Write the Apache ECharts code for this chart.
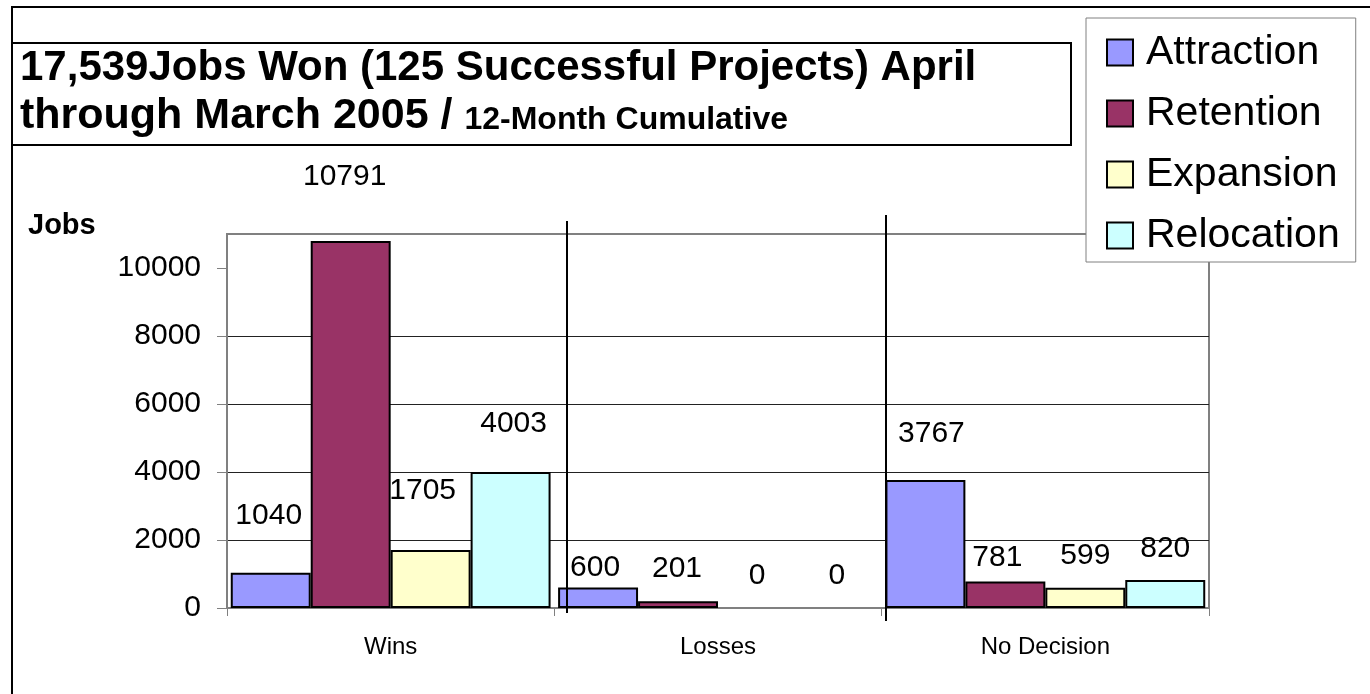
<!DOCTYPE html>
<html>
<head>
<meta charset="utf-8">
<script src="https://cdn.jsdelivr.net/npm/echarts@6/dist/echarts.min.js"></script>
<style>
html,body{margin:0;padding:0;background:#fff;}
#chart{width:1370px;height:694px;}
</style>
</head>
<body>
<div id="chart"></div>
<script>
// ---- data ----
const categories = ['Wins', 'Losses', 'No Decision'];
const seriesNames = ['Attraction', 'Retention', 'Expansion', 'Relocation'];
const attraction = [1040, 600, 3767];
const retention = [10791, 201, 781];
const expansion = [1705, 0, 599];
const relocation = [4003, 0, 820];
const yTicks = [0, 2000, 4000, 6000, 8000, 10000];
const titleLine1 = '17,539Jobs Won (125 Successful Projects) April';
const titleLine2 = 'through March 2005 / ';
const subTitle = '12-Month Cumulative';
const yAxisTitle = 'Jobs';

// ---- styles ----
const FONT = '"Liberation Sans", Arial, sans-serif';
const colors = ['#9999FF', '#993366', '#FFFFCC', '#CCFFFF'];
// per-label [dx, distance] nudges (style only)
const labelNudge = [
  [[-2, 42], [-3, 5], [6, 31]],
  [[-6, 49], [-1, 17], [-8, 9]],
  [[-8, 44], [-1, 17], [0, 17]],
  [[3, 33], [-1, 17], [0, 16]]
];
const values = [attraction, retention, expansion, relocation];

const series = seriesNames.map((name, s) => ({
  name: name,
  type: 'bar',
  barGap: '0%',
  barCategoryGap: '2.3%',
  itemStyle: { color: colors[s], borderColor: '#000', borderWidth: 2 },
  label: {
    show: true, position: 'top', color: '#000', fontSize: 30, fontFamily: FONT
  },
  data: values[s].map((v, i) => ({
    value: v,
    itemStyle: v === 0 ? { borderWidth: 0 } : undefined,
    label: { distance: labelNudge[s][i][1], offset: [labelNudge[s][i][0], 0] }
  }))
}));

const chart = echarts.init(document.getElementById('chart'), null, { renderer: 'canvas' });
chart.setOption({
  animation: false,
  backgroundColor: '#fff',
  textStyle: { fontFamily: FONT },
  title: {
    left: 20, top: 44, padding: 0,
    text: '{a|' + titleLine1 + '}\n{c|' + titleLine2 + '}{b|' + subTitle + '}',
    textStyle: {
      rich: {
        a: { fontSize: 42, fontWeight: 'bold', lineHeight: 48, color: '#000', fontFamily: FONT },
        c: { fontSize: 43, fontWeight: 'bold', lineHeight: 48, color: '#000', fontFamily: FONT },
        b: { fontSize: 32, fontWeight: 'bold', lineHeight: 48, color: '#000', fontFamily: FONT, padding: [8, 0, 0, 0] }
      }
    }
  },
  legend: {
    orient: 'vertical',
    left: 1086, top: 18,
    padding: [14, 16, 6, 20],
    itemGap: 20,
    itemWidth: 26, itemHeight: 26,
    icon: 'rect',
    borderColor: '#808080', borderWidth: 1,
    backgroundColor: '#fff',
    z: 10,
    textStyle: { fontSize: 41, lineHeight: 41, color: '#000', fontFamily: FONT, padding: [0, 0, 0, 8] },
    data: seriesNames
  },
  grid: {
    left: 227, top: 234, right: 161, bottom: 86,
    show: true, borderColor: '#808080', borderWidth: 2, backgroundColor: '#fff'
  },
  xAxis: {
    type: 'category',
    data: categories,
    axisLine: { show: true, lineStyle: { color: '#808080', width: 2 } },
    axisTick: { show: true, length: 8, interval: 0, lineStyle: { color: '#808080', width: 1 } },
    axisLabel: { fontSize: 24, color: '#000', margin: 27, fontFamily: FONT },
    splitLine: { show: false }
  },
  yAxis: {
    type: 'value',
    min: 0, max: 11000, interval: 2000,
    axisLine: { show: true, lineStyle: { color: '#808080', width: 2 } },
    axisTick: { show: true, length: 10, lineStyle: { color: '#808080', width: 1 }, customValues: yTicks },
    axisLabel: { fontSize: 30, color: '#000', margin: 26, fontFamily: FONT, customValues: yTicks,
      formatter: v => String(v) },
    splitLine: { show: true, showMinLine: false, showMaxLine: false, lineStyle: { color: '#222', width: 1 } }
  },
  graphic: [
    { type: 'rect', silent: true, z: 0, shape: { x: 12, y: 7, width: 1400, height: 800 },
      style: { fill: 'none', stroke: '#000', lineWidth: 2 } },
    { type: 'rect', silent: true, z: 0, shape: { x: 12, y: 43, width: 1059, height: 102 },
      style: { fill: 'none', stroke: '#000', lineWidth: 2 } },
    { type: 'line', silent: true, z: 5, shape: { x1: 567, y1: 221, x2: 567, y2: 613 },
      style: { stroke: '#000', lineWidth: 2 } },
    { type: 'line', silent: true, z: 5, shape: { x1: 886, y1: 215, x2: 886, y2: 621 },
      style: { stroke: '#000', lineWidth: 2 } },
    { type: 'text', silent: true, left: 28, top: 211,
      style: { text: yAxisTitle, fontSize: 29, fontWeight: 'bold', fill: '#000', fontFamily: FONT } }
  ],
  series: series
});
</script>
</body>
</html>
